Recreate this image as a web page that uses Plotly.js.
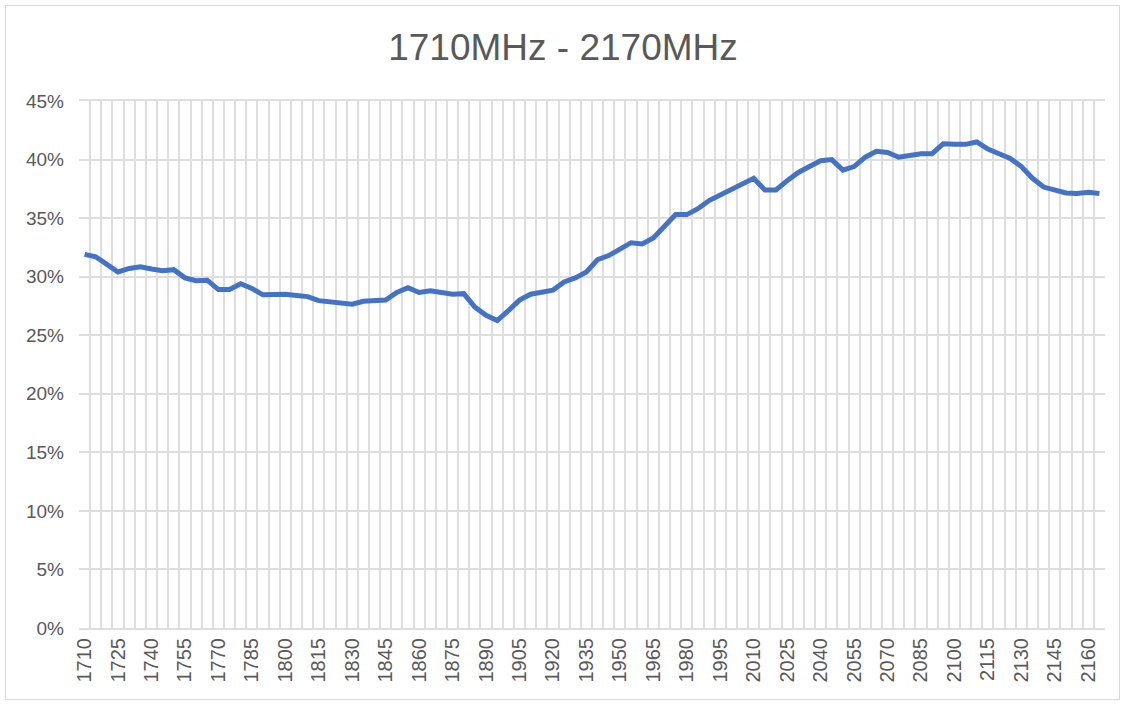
<!DOCTYPE html>
<html>
<head>
<meta charset="utf-8">
<script src="https://cdn.plot.ly/plotly-3.0.1.min.js"></script>
<style>
  html, body { margin: 0; padding: 0; background: #fff; }
  #wrap { position: relative; width: 1126px; height: 706px; }
  #chart { width: 1126px; height: 706px; }
  #frame { position: absolute; left: 5px; top: 5px; width: 1115px; height: 695px;
           border: 1.5px solid #d9d9d9; box-sizing: border-box; pointer-events: none; }
</style>
</head>
<body>
<div id="wrap"><div id="chart"></div><div id="frame"></div></div>
<script>
// Frequencies (MHz), one category every 5 MHz
const frequencies = [
  1710,1715,1720,1725,1730,1735,1740,1745,1750,1755,
  1760,1765,1770,1775,1780,1785,1790,1795,1800,1805,
  1810,1815,1820,1825,1830,1835,1840,1845,1850,1855,
  1860,1865,1870,1875,1880,1885,1890,1895,1900,1905,
  1910,1915,1920,1925,1930,1935,1940,1945,1950,1955,
  1960,1965,1970,1975,1980,1985,1990,1995,2000,2005,
  2010,2015,2020,2025,2030,2035,2040,2045,2050,2055,
  2060,2065,2070,2075,2080,2085,2090,2095,2100,2105,
  2110,2115,2120,2125,2130,2135,2140,2145,2150,2155,
  2160,2165
];
// Efficiency values (%)
const efficiency = [
  31.9,31.7,31.05,30.4,30.7,30.85,30.65,30.5,30.6,29.9,
  29.65,29.7,28.9,28.9,29.4,29.0,28.45,28.5,28.5,28.4,
  28.3,27.95,27.85,27.7,27.65,27.9,27.95,28.0,28.65,29.05,
  28.65,28.8,28.65,28.5,28.55,27.4,26.7,26.25,27.1,28.0,
  28.5,28.7,28.85,29.55,29.9,30.4,31.45,31.8,32.3,32.9,
  32.8,33.3,34.3,35.3,35.3,35.8,36.5,37.0,37.4,37.95,
  38.4,37.4,37.4,38.2,38.9,39.4,39.9,40.0,39.1,39.4,
  40.2,40.7,40.6,40.2,40.4,40.5,40.5,41.35,41.3,41.3,
  41.5,40.9,40.5,40.1,39.4,38.4,37.65,37.4,37.15,37.1,
  37.2,37.1
];
// Tick labels shown every third category
const xTickLabels = ["1710","1725","1740","1755","1770","1785","1800","1815","1830","1845",
  "1860","1875","1890","1905","1920","1935","1950","1965","1980","1995","2010","2025",
  "2040","2055","2070","2085","2100","2115","2130","2145","2160"];
const yTickVals = [0,5,10,15,20,25,30,35,40,45];
const chartTitle = "1710MHz - 2170MHz";

const cats = frequencies.map(String);
const tickText = cats.map(c => xTickLabels.includes(c) ? c : "");

const font = "Liberation Sans, Arial, sans-serif";
const trace = {
  x: cats, y: efficiency, type: "scatter", mode: "lines",
  line: { color: "#4472C4", width: 5, shape: "linear" },
  hoverinfo: "x+y"
};
const layout = {
  width: 1126, height: 706,
  margin: { l: 79, r: 21, t: 101, b: 78 },
  paper_bgcolor: "#fff", plot_bgcolor: "#fff",
  showlegend: false,
  title: { text: chartTitle, x: 0.5, xanchor: "center", y: 0.933, yanchor: "middle",
           font: { family: font, size: 37, color: "#595959" } },
  xaxis: {
    type: "category", tickson: "boundaries",
    tickmode: "array", tickvals: cats, ticktext: tickText,
    tickangle: -90, ticks: "", showgrid: true, gridcolor: "#dedede", gridwidth: 2,
    showline: true, linecolor: "#dedede", linewidth: 2, mirror: true,
    zeroline: false, tickfont: { family: font, size: 20, color: "#595959" },
    range: [-0.5, frequencies.length - 0.5]
  },
  yaxis: {
    range: [0, 45], tickmode: "array", tickvals: yTickVals,
    ticktext: yTickVals.map(v => v + "%"),
    showgrid: true, gridcolor: "#dedede", gridwidth: 2, zeroline: false,
    showline: false, ticks: "", ticklabelstandoff: 14,
    tickfont: { family: font, size: 19, color: "#595959" }
  }
};
Plotly.newPlot("chart", [trace], layout, { displayModeBar: false, staticPlot: true });
</script>
</body>
</html>
